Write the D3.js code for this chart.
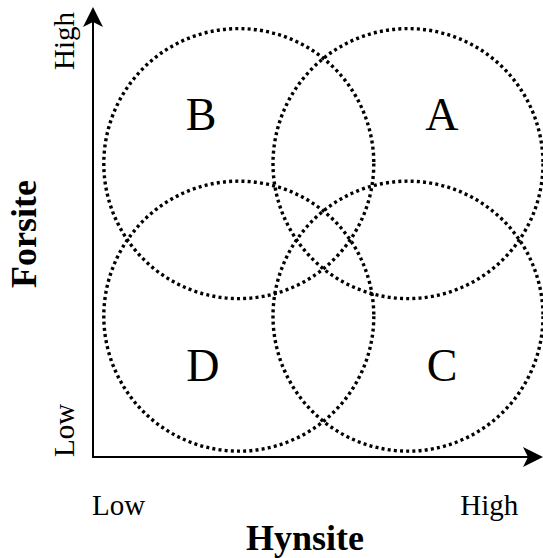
<!DOCTYPE html>
<html>
<head>
<meta charset="utf-8">
<script src="https://cdn.jsdelivr.net/npm/d3@7/dist/d3.min.js"></script>
<style>
  body { margin: 0; background: #fff; }
  svg { display: block; }
  text { font-family: "Liberation Serif", "Times New Roman", serif; fill: #000; }
</style>
</head>
<body>
<div id="main"></div>
<script>
// four overlapping regions, in axis units (0..100 on both axes)
var circleNames = ['A', 'B', 'C', 'D'];
var circleX = [70, 32.4, 70, 32.4];
var circleY = [65.2, 65.2, 31.3, 31.3];
var circleR = [30, 30, 30, 30];

// where the letters sit (baseline)
var labelX = [77.5, 24, 77.6, 24.4];
var labelY = [72.7, 72.7, 16.9, 16.9];

var xTickLabels = ['Low', 'High'];
var yTickLabels = ['Low', 'High'];
var xTitle = 'Hynsite';
var yTitle = 'Forsite';

var svgWidth = 543;
var svgHeight = 558;

var x = d3.scaleLinear().domain([0, 100]).range([93, 543]);
var y = d3.scaleLinear().domain([0, 100]).range([457, 7]);

var svg = d3.select('#main')
  .append('svg')
  .attr('width', svgWidth)
  .attr('height', svgHeight);

// stealth-like arrow head
svg.append('defs').append('marker')
  .attr('id', 'arrow')
  .attr('viewBox', '0 0 20 20')
  .attr('refX', 15)
  .attr('refY', 10)
  .attr('markerWidth', 20)
  .attr('markerHeight', 20)
  .attr('markerUnits', 'userSpaceOnUse')
  .attr('orient', 'auto')
  .append('path')
  .attr('d', 'M0,0 L20,10 L0,20 L5,10 Z')
  .attr('fill', '#000');

// circles
svg.append('g')
  .selectAll('circle')
  .data(circleNames)
  .enter()
  .append('circle')
  .attr('cx', function(d, i) { return x(circleX[i]); })
  .attr('cy', function(d, i) { return y(circleY[i]); })
  .attr('r', function(d, i) { return x(circleR[i]) - x(0); })
  .attr('fill', 'none')
  .attr('stroke', '#000')
  .attr('stroke-width', 3.4)
  .attr('stroke-dasharray', '3 3.2');

// region letters
svg.append('g')
  .selectAll('text')
  .data(circleNames)
  .enter()
  .append('text')
  .attr('x', function(d, i) { return x(labelX[i]); })
  .attr('y', function(d, i) { return y(labelY[i]); })
  .attr('text-anchor', 'middle')
  .attr('font-size', 46)
  .text(function(d) { return d; });

// axes with arrows
svg.append('line')
  .attr('x1', x(0)).attr('y1', y(0))
  .attr('x2', x(100) - 5).attr('y2', y(0))
  .attr('stroke', '#000').attr('stroke-width', 2)
  .attr('marker-end', 'url(#arrow)');

svg.append('line')
  .attr('x1', x(0)).attr('y1', y(0) + 1)
  .attr('x2', x(0)).attr('y2', y(100) + 5)
  .attr('stroke', '#000').attr('stroke-width', 2)
  .attr('marker-end', 'url(#arrow)');

// x tick labels
svg.append('text')
  .attr('x', x(0) - 1)
  .attr('y', 515)
  .attr('font-size', 29)
  .attr('text-anchor', 'start')
  .text(xTickLabels[0]);

svg.append('text')
  .attr('x', x(94.5))
  .attr('y', 515)
  .attr('font-size', 29)
  .attr('text-anchor', 'end')
  .text(xTickLabels[1]);

// y tick labels (rotated)
svg.append('text')
  .attr('transform', 'translate(74,' + y(0) + ') rotate(-90)')
  .attr('font-size', 29)
  .attr('text-anchor', 'start')
  .text(yTickLabels[0]);

svg.append('text')
  .attr('transform', 'translate(74,' + y(98.9) + ') rotate(-90)')
  .attr('font-size', 29)
  .attr('text-anchor', 'end')
  .text(yTickLabels[1]);

// axis titles
svg.append('text')
  .attr('x', 305)
  .attr('y', 550)
  .attr('font-size', 36)
  .attr('font-weight', 'bold')
  .attr('text-anchor', 'middle')
  .text(xTitle);

svg.append('text')
  .attr('transform', 'translate(36,234) rotate(-90)')
  .attr('font-size', 36)
  .attr('font-weight', 'bold')
  .attr('text-anchor', 'middle')
  .text(yTitle);
</script>
</body>
</html>
